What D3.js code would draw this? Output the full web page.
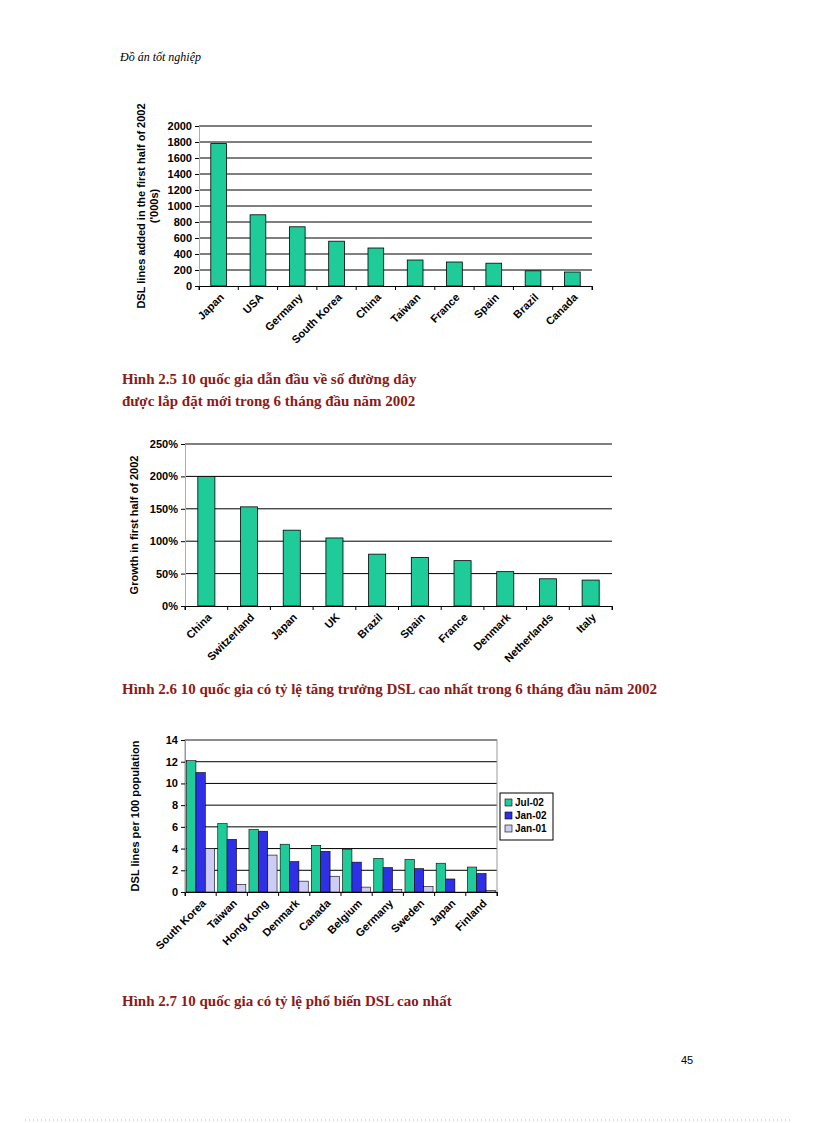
<!DOCTYPE html>
<html><head><meta charset="utf-8">
<script src="https://cdn.jsdelivr.net/npm/d3@7"></script>
<style>body{margin:0;background:#fff}</style></head>
<body><svg id="page" width="816" height="1123"></svg>
<script>
// chart 1
const c1Countries = ["Japan","USA","Germany","South Korea","China","Taiwan","France","Spain","Brazil","Canada"];
const c1Values = [1780,890,740,560,475,325,300,285,190,175];
const c1Ticks = [0,200,400,600,800,1000,1200,1400,1600,1800,2000];
// chart 2
const c2Countries = ["China","Switzerland","Japan","UK","Brazil","Spain","France","Denmark","Netherlands","Italy"];
const c2Values = [200,153,117,105,80,75,70,53,42,40];
const c2Ticks = [0,50,100,150,200,250];
// chart 3
const c3Countries = ["South Korea","Taiwan","Hong Kong","Denmark","Canada","Belgium","Germany","Sweden","Japan","Finland"];
const c3Series = ["Jul-02","Jan-02","Jan-01"];
const c3Jul02 = [12.1,6.3,5.75,4.4,4.3,3.9,3.1,3.0,2.65,2.3];
const c3Jan02 = [11,4.85,5.6,2.8,3.75,2.75,2.25,2.15,1.2,1.7];
const c3Jan01 = [4,0.7,3.4,1.0,1.45,0.45,0.25,0.5,0,0.15];
const c3Ticks = [0,2,4,6,8,10,12,14];

const green = "#1fcc99", blue = "#2f2fe6", lilac = "#ccccf6";
const svg = d3.select("#page");
const font = "Liberation Sans, Arial, sans-serif";

svg.append("text").attr("x",120).attr("y",61).attr("font-family","Liberation Serif, serif")
  .attr("font-style","italic").attr("font-size",12).text("Đồ án tốt nghiệp");

function axisFrame(g, x0, x1, y, ticks, fmt, labelLines, labelX, border) {
  const yAxis = d3.axisLeft(y).tickValues(ticks).tickFormat(fmt).tickSize(4);
  g.append("g").selectAll("line").data(ticks.filter(t => t > 0)).join("line")
    .attr("x1",x0).attr("x2",x1).attr("y1",d=>y(d)).attr("y2",d=>y(d))
    .attr("stroke","#000").attr("stroke-width",1);
  if (border) g.append("rect").attr("x",x0).attr("y",y(ticks[ticks.length-1]))
    .attr("width",x1-x0).attr("height",y(0)-y(ticks[ticks.length-1]))
    .attr("fill","none").attr("stroke","#999");
  const ax = g.append("g").attr("transform",`translate(${x0},0)`).call(yAxis);
  ax.select(".domain").attr("stroke", border ? "#999" : "#aac");
  ax.selectAll("text").attr("font-family",font).attr("font-weight","bold").attr("font-size",11);
  const cy = (y(0)+y(ticks[ticks.length-1]))/2;
  labelLines.forEach((t,i) => g.append("text")
    .attr("transform",`translate(${labelX+i*13},${cy}) rotate(-90)`)
    .attr("text-anchor","middle").attr("font-family",font).attr("font-weight","bold")
    .attr("font-size",11).text(t));
}

function xAxis(g, x, y0, cats) {
  const ax = g.append("g").attr("transform",`translate(0,${y0})`)
    .call(d3.axisBottom(x).tickSize(4).tickFormat(""));
  ax.select(".domain").attr("stroke","#000");
  // ticks between categories
  ax.selectAll(".tick").remove();
  const step = x.step();
  d3.range(cats.length+1).forEach(i => ax.append("line")
    .attr("x1",x.range()[0]+i*step).attr("x2",x.range()[0]+i*step).attr("y1",0).attr("y2",4).attr("stroke","#000"));
  g.append("g").selectAll("text").data(cats).join("text")
    .attr("transform",d=>`translate(${x(d)+x.bandwidth()/2+6},${y0+12}) rotate(-45)`)
    .attr("text-anchor","end").attr("font-family",font).attr("font-weight","bold")
    .attr("font-size",11).text(d=>d);
}

function caption(lines, x, y) {
  lines.forEach((t,i) => svg.append("text").attr("x",x).attr("y",y+i*22)
    .attr("font-family","Liberation Serif, serif").attr("font-weight","bold")
    .attr("font-size",15).attr("fill","#8b1a1a").text(t));
}

// Chart 1
{
  const g = svg.append("g");
  const x = d3.scaleBand().domain(c1Countries).range([199,592]).paddingInner(0.6).paddingOuter(0.3);
  const y = d3.scaleLinear().domain([0,2000]).range([286,126]);
  axisFrame(g,199,592,y,c1Ticks,d=>d,["DSL lines added in the first half of 2002","('000s)"],145,false);
  g.selectAll("rect.bar").data(c1Values).join("rect").attr("class","bar")
    .attr("x",(d,i)=>x(c1Countries[i])).attr("width",x.bandwidth())
    .attr("y",d=>y(d)).attr("height",d=>y(0)-y(d))
    .attr("fill",green).attr("stroke","#000").attr("stroke-width",0.8);
  xAxis(g,x,286,c1Countries);
}
caption(["Hình 2.5    10 quốc gia dẫn đầu về số đường dây","được lắp đặt mới trong 6 tháng đầu năm 2002"],122,384);

// Chart 2
{
  const g = svg.append("g");
  const x = d3.scaleBand().domain(c2Countries).range([185,612]).paddingInner(0.6).paddingOuter(0.3);
  const y = d3.scaleLinear().domain([0,250]).range([606,444]);
  axisFrame(g,185,612,y,c2Ticks,d=>d+"%",["Growth in first half of 2002"],138,false);
  g.selectAll("rect.bar").data(c2Values).join("rect").attr("class","bar")
    .attr("x",(d,i)=>x(c2Countries[i])).attr("width",x.bandwidth())
    .attr("y",d=>y(d)).attr("height",d=>y(0)-y(d))
    .attr("fill",green).attr("stroke","#000").attr("stroke-width",0.8);
  xAxis(g,x,606,c2Countries);
}
caption(["Hình 2.6 10 quốc gia có tỷ lệ tăng trưởng DSL cao nhất trong 6 tháng đầu năm 2002"],122,694);

// Chart 3
{
  const g = svg.append("g");
  const x = d3.scaleBand().domain(c3Countries).range([185,497]).paddingInner(0.1).paddingOuter(0.05);
  const xs = d3.scaleBand().domain(c3Series).range([0,x.bandwidth()]).paddingInner(0);
  const y = d3.scaleLinear().domain([0,14]).range([892,740]);
  const color = d3.scaleOrdinal(c3Series,[green,blue,lilac]);
  axisFrame(g,185,497,y,c3Ticks,d=>d,["DSL lines per 100 population"],139,true);
  const series = [c3Jul02,c3Jan02,c3Jan01];
  series.forEach((vals,si) => g.append("g").selectAll("rect").data(vals).join("rect")
    .attr("x",(d,i)=>x(c3Countries[i])+xs(c3Series[si])).attr("width",xs.bandwidth())
    .attr("y",d=>y(d)).attr("height",d=>y(0)-y(d))
    .attr("fill",color(c3Series[si])).attr("stroke","#000").attr("stroke-width",0.6));
  xAxis(g,x,892,c3Countries);
  const lg = g.append("g").attr("transform","translate(500,793)");
  lg.append("rect").attr("width",53).attr("height",47).attr("fill","#fff").attr("stroke","#000");
  c3Series.forEach((s,i) => {
    lg.append("rect").attr("x",5).attr("y",6+i*13).attr("width",7).attr("height",7)
      .attr("fill",color(s)).attr("stroke","#000").attr("stroke-width",0.6);
    lg.append("text").attr("x",15).attr("y",13+i*13).attr("font-family",font)
      .attr("font-weight","bold").attr("font-size",10).text(s);
  });
}
caption(["Hình  2.7 10 quốc gia có tỷ lệ phổ biến DSL cao nhất"],122,1006);

svg.append("text").attr("x",681).attr("y",1064).attr("font-family",font).attr("font-size",11).text("45");
svg.append("line").attr("x1",25).attr("x2",792).attr("y1",1120).attr("y2",1120)
  .attr("stroke","#9c9").attr("stroke-dasharray","1,3");
</script></body></html>
